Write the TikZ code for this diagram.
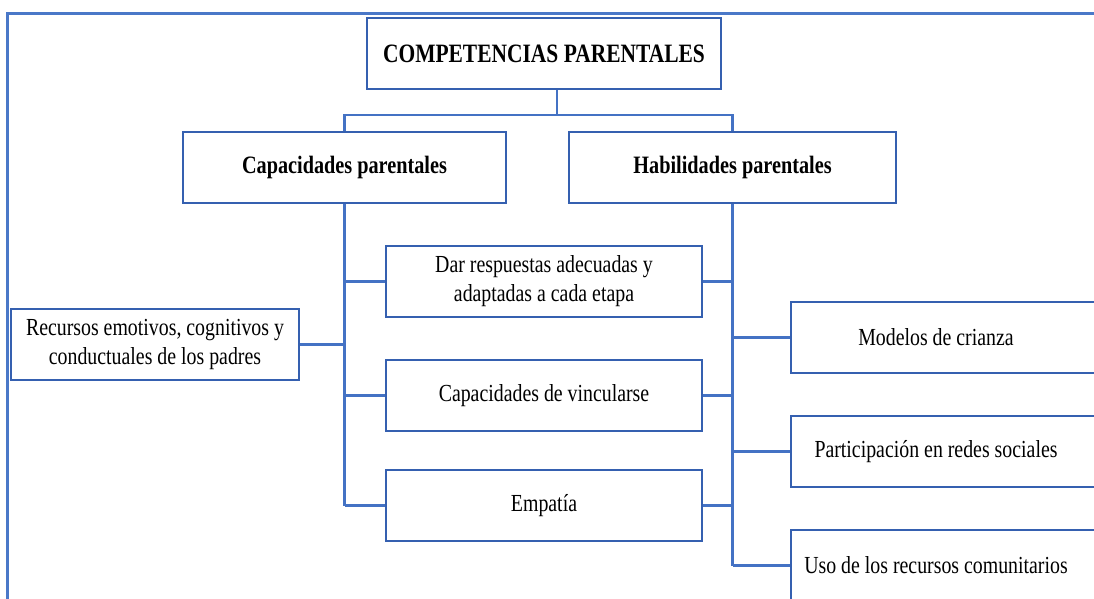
\documentclass[tikz,border=0pt]{standalone}
\usepackage{fontspec}
\setmainfont{Liberation Serif}[FakeStretch=0.81]
\definecolor{conncol}{HTML}{4472C4}
\definecolor{boxcol}{HTML}{3560B0}
\definecolor{framecol}{HTML}{4A78C8}
\begin{document}
\begin{tikzpicture}[x=1pt,y=-1pt,
  boxstyle/.style={draw=boxcol,line width=2.4pt,fill=white,inner sep=0pt,minimum height=71pt},
  txtstyle/.style={inner sep=0pt,align=center,font=\fontsize{24.5}{29}\selectfont},
  headtxt/.style={inner sep=0pt,align=center,font=\fontsize{25}{30}\selectfont\bfseries},
  conn/.style={draw=conncol,line width=2.4pt},
  framestyle/.style={draw=framecol,line width=2.4pt}]
\clip (0,0) rectangle (1094,598);
\fill[white] (0,0) rectangle (1094,598);
\draw[framestyle] (7.5,610) -- (7.5,13.5) -- (1110,13.5);
\coordinate (tj) at (557,115);
% boxes
\node[boxstyle,minimum width=354pt,headtxt,font=\fontsize{26.5}{30}\selectfont\bfseries] (title) at (544,53.5) {COMPETENCIAS PARENTALES};
\node[boxstyle,minimum width=323pt,headtxt] (cap) at (344.5,167.5) {Capacidades parentales};
\node[boxstyle,minimum width=327pt,headtxt] (hab) at (732.5,167.5) {Habilidades parentales};
\node[boxstyle,minimum width=316pt,txtstyle] (dar) at (544,281.5) {Dar respuestas adecuadas y\\adaptadas a cada etapa};
\node[boxstyle,minimum width=316pt,txtstyle] (vin) at (544,395.5) {Capacidades de vincularse};
\node[boxstyle,minimum width=316pt,txtstyle] (emp) at (544,505.5) {Empatía};
\node[boxstyle,minimum width=288pt,txtstyle] (rec) at (155,344.5) {Recursos emotivos, cognitivos y\\conductuales de los padres};
\node[boxstyle,minimum width=330pt] (mod) at (956,337.5) {};
\node[boxstyle,minimum width=330pt] (par) at (956,451.5) {};
\node[boxstyle,minimum width=330pt] (uso) at (956,565.5) {};
\node[txtstyle] (modt) at (936,337.5) {Modelos de crianza};
\node[txtstyle] (part) at (936,451.5) {Participación en redes sociales};
\node[txtstyle] (usot) at (936,565.5) {Uso de los recursos comunitarios};
% connectors
\draw[conn] (title.south -| tj) -- (tj);
\draw[conn] (cap.north) |- (tj) -| (hab.north);
\draw[conn] (cap.south) -- (cap.south |- emp.west);
\draw[conn] (cap.south |- dar.west) -- (dar.west);
\draw[conn] (cap.south |- rec.east) -- (rec.east);
\draw[conn] (cap.south |- vin.west) -- (vin.west);
\draw[conn] (cap.south |- emp.west) -- (emp.west);
\draw[conn] (hab.south) -- (hab.south |- uso.west);
\draw[conn] (dar.east) -- (hab.south |- dar.east);
\draw[conn] (vin.east) -- (hab.south |- vin.east);
\draw[conn] (emp.east) -- (hab.south |- emp.east);
\draw[conn] (hab.south |- mod.west) -- (mod.west);
\draw[conn] (hab.south |- par.west) -- (par.west);
\draw[conn] (hab.south |- uso.west) -- (uso.west);
\end{tikzpicture}
\end{document}
